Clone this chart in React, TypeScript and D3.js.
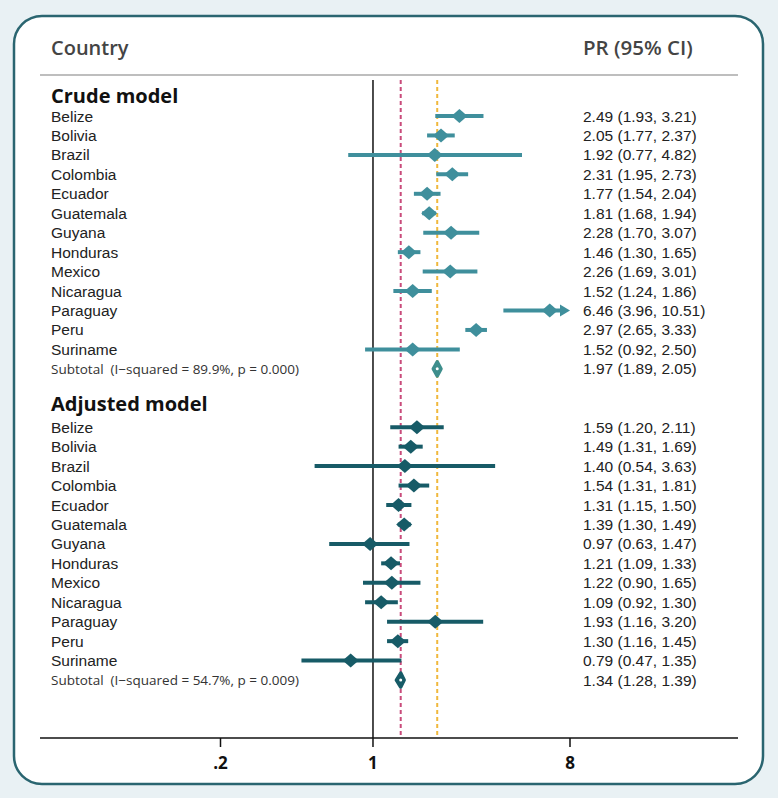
import React from "react";
import * as d3 from "d3";

const countries = ["Belize","Bolivia","Brazil","Colombia","Ecuador","Guatemala","Guyana","Honduras","Mexico","Nicaragua","Paraguay","Peru","Suriname"];
const crudeEst = [2.49,2.05,1.92,2.31,1.77,1.81,2.28,1.46,2.26,1.52,6.46,2.97,1.52];
const crudeLo = [1.93,1.77,0.77,1.95,1.54,1.68,1.70,1.30,1.69,1.24,3.96,2.65,0.92];
const crudeHi = [3.21,2.37,4.82,2.73,2.04,1.94,3.07,1.65,3.01,1.86,10.51,3.33,2.50];
const crudeSub = { est: 1.97, lo: 1.89, hi: 2.05, label: "Subtotal  (I\u2212squared = 89.9%, p = 0.000)" };
const adjEst = [1.59,1.49,1.40,1.54,1.31,1.39,0.97,1.21,1.22,1.09,1.93,1.30,0.79];
const adjLo = [1.20,1.31,0.54,1.31,1.15,1.30,0.63,1.09,0.90,0.92,1.16,1.16,0.47];
const adjHi = [2.11,1.69,3.63,1.81,1.50,1.49,1.47,1.33,1.65,1.30,3.20,1.45,1.35];
const adjSub = { est: 1.34, lo: 1.28, hi: 1.39, label: "Subtotal  (I\u2212squared = 54.7%, p = 0.009)" };
const tickValues = [0.2, 1, 8];
const tickLabels = [".2", "1", "8"];
const nullValue = 1;

const W = 778, H = 798;
const fmt = (v: number) => v.toFixed(2);

type Row =
  | { kind: "header"; label: string; idx: number; group: number }
  | { kind: "study"; label: string; est: number; lo: number; hi: number; idx: number; group: number }
  | { kind: "sub"; label: string; est: number; lo: number; hi: number; idx: number; group: number };

function buildRows(): Row[] {
  const rows: Row[] = [];
  let i = 0;
  const groups = [
    { title: "Crude model", est: crudeEst, lo: crudeLo, hi: crudeHi, sub: crudeSub },
    { title: "Adjusted model", est: adjEst, lo: adjLo, hi: adjHi, sub: adjSub },
  ];
  groups.forEach((g, gi) => {
    rows.push({ kind: "header", label: g.title, idx: i++, group: gi });
    countries.forEach((c, k) => rows.push({ kind: "study", label: c, est: g.est[k], lo: g.lo[k], hi: g.hi[k], idx: i++, group: gi }));
    rows.push({ kind: "sub", label: g.sub.label, est: g.sub.est, lo: g.sub.lo, hi: g.sub.hi, idx: i++, group: gi });
    i++; // blank
  });
  return rows;
}

export default function App() {
  const rows = buildRows();
  const x = d3.scaleLog().domain([0.2, 8]).range([220.5, 570]);
  const y = d3.scaleLinear().domain([1, 2]).range([116, 135.45]);
  const axisY = 738;
  const topY = 80;
  const colors = ["#3f8f9c", "#175b67"];
  const subColors = ["#3e8e8c", "#175b67"];
  const xMax = 8;
  const labelFont = "'Liberation Sans', Arial, sans-serif";
  const calFont = "'Open Sans', sans-serif";
  const hw = 8, hh = 7;
  const headerOffset = [-1.5, -4.5];

  return (
    <div style={{ position: "absolute", left: 0, top: 0 }}>
      <svg width={W} height={H} style={{ display: "block" }}>
        <rect x={0} y={0} width={W} height={H} fill="#e9f1f4" />
        <rect x={14} y={16} width={749} height={768} rx={28} ry={28} fill="#ffffff" stroke="#2a6570" strokeWidth={2.5} />
        <text x={51} y={47} fontFamily={calFont} fontWeight={600} fontSize={20} fill="#444" dominantBaseline="central">Country</text>
        <text x={583} y={47} fontFamily={calFont} fontWeight={600} fontSize={20.5} fill="#444" dominantBaseline="central">PR (95% CI)</text>
        <line x1={40} x2={738} y1={75} y2={75} stroke="#a8a8a8" strokeWidth={1.5} />

        {/* reference lines */}
        <line x1={x(nullValue)} x2={x(nullValue)} y1={topY} y2={axisY} stroke="#111" strokeWidth={1.5} />
        <line x1={x(adjSub.est)} x2={x(adjSub.est)} y1={topY} y2={axisY} stroke="#c94b7b" strokeWidth={2} strokeDasharray="4,3" />
        <line x1={x(crudeSub.est)} x2={x(crudeSub.est)} y1={topY} y2={axisY} stroke="#f0b83c" strokeWidth={2} strokeDasharray="4,3" />

        {rows.map((r, k) => {
          const yy = y(r.idx);
          if (r.kind === "header") {
            return (
              <text key={k} x={51} y={yy + headerOffset[r.group]} fontFamily={calFont} fontWeight={700} fontSize={20} fill="#111" dominantBaseline="central">{r.label}</text>
            );
          }
          const c = r.kind === "sub" ? subColors[r.group] : colors[r.group];
          const clipped = r.hi > xMax;
          const x1 = x(r.lo);
          const x2 = clipped ? x(xMax) - 8 : x(r.hi);
          const cx = x(r.est);
          return (
            <g key={k}>
              <text x={51} y={yy} fontFamily={r.kind === "sub" ? calFont : labelFont} fontSize={r.kind === "sub" ? 13.5 : 15.5} fill={r.kind === "sub" ? "#333" : "#222"} dominantBaseline="central" style={{ whiteSpace: "pre" }}>{r.label}</text>
              <text x={583} y={yy} fontFamily={labelFont} fontSize={15.5} fill="#222" dominantBaseline="central">{`${fmt(r.est)} (${fmt(r.lo)}, ${fmt(r.hi)})`}</text>
              {r.kind === "study" ? (
                <g>
                  <line x1={x1} x2={x2} y1={yy} y2={yy} stroke={c} strokeWidth={4} />
                  {clipped && (
                    <path d={`M${x(xMax) - 10},${yy - 6} L${x(xMax)},${yy} L${x(xMax) - 10},${yy + 6} Z`} fill={c} />
                  )}
                  <path d={`M${cx - hw},${yy} L${cx},${yy - hh} L${cx + hw},${yy} L${cx},${yy + hh} Z`} fill={c} />
                </g>
              ) : (
                <g>
                  <path d={`M${x(r.lo)},${yy} L${cx},${yy - 7} L${x(r.hi)},${yy} L${cx},${yy + 7} Z`} fill={c} stroke={c} strokeWidth={3.5} strokeLinejoin="round" />
                  <circle cx={cx} cy={yy} r={1.5} fill="#fff" />
                </g>
              )}
            </g>
          );
        })}

        {/* axis */}
        <line x1={40} x2={738} y1={axisY} y2={axisY} stroke="#111" strokeWidth={1.5} />
        {tickValues.map((t, i) => (
          <g key={i}>
            <line x1={x(t)} x2={x(t)} y1={axisY} y2={axisY + 9} stroke="#111" strokeWidth={1.5} />
            <text x={x(t)} y={762} textAnchor="middle" fontFamily={calFont} fontWeight={700} fontSize={17} fill="#111" dominantBaseline="central">{tickLabels[i]}</text>
          </g>
        ))}
      </svg>
    </div>
  );
}
